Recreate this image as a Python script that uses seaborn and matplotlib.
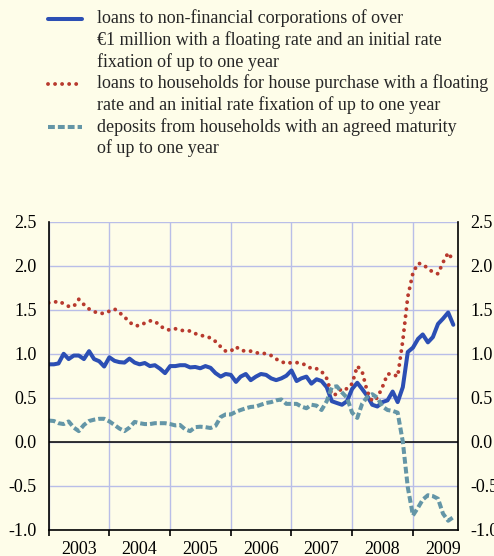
import numpy as np
import pandas as pd
import matplotlib
matplotlib.use('Agg')
import matplotlib.pyplot as plt
import matplotlib.dates as mdates
import seaborn as sns
from matplotlib.legend_handler import HandlerLine2D
from matplotlib.ticker import MultipleLocator, FormatStrFormatter, NullFormatter

# monthly values, Jan 2003 - Sep 2009 (percentage points)
corporations = [
    0.88, 0.88, 0.89, 1.00, 0.94, 0.98, 0.98, 0.94, 1.03, 0.94, 0.915, 0.855,
    0.96, 0.92, 0.905, 0.90, 0.945, 0.90, 0.88, 0.895, 0.86, 0.87, 0.83, 0.78,
    0.86, 0.86, 0.87, 0.87, 0.845, 0.85, 0.835, 0.86, 0.84, 0.78, 0.74, 0.77,
    0.76, 0.68, 0.74, 0.77, 0.70, 0.74, 0.77, 0.76, 0.72, 0.70, 0.72, 0.75,
    0.81, 0.69, 0.72, 0.74, 0.66, 0.71, 0.69, 0.62, 0.46, 0.44, 0.42, 0.46,
    0.60, 0.67, 0.60, 0.52, 0.42, 0.40, 0.45, 0.47, 0.57, 0.45, 0.62, 1.02,
    1.07, 1.17, 1.22, 1.13, 1.19, 1.34, 1.40, 1.47, 1.33,
]
households = [
    1.58, 1.585, 1.60, 1.57, 1.54, 1.54, 1.62, 1.56, 1.51, 1.48, 1.46, 1.46,
    1.485, 1.51, 1.47, 1.42, 1.36, 1.32, 1.32, 1.35, 1.375, 1.37, 1.32, 1.28,
    1.27, 1.285, 1.27, 1.26, 1.26, 1.23, 1.21, 1.20, 1.18, 1.14, 1.08, 1.03,
    1.03, 1.08, 1.04, 1.03, 1.03, 1.01, 1.01, 1.00, 0.98, 0.94, 0.91, 0.89,
    0.90, 0.90, 0.89, 0.87, 0.83, 0.83, 0.80, 0.72, 0.53, 0.54, 0.61, 0.60,
    0.66, 0.86, 0.80, 0.57, 0.46, 0.50, 0.62, 0.77, 0.77, 0.74, 1.15, 1.65,
    1.92, 2.03, 2.02, 1.97, 1.93, 1.91, 2.04, 2.15, 2.06,
]
deposits = [
    0.24, 0.235, 0.21, 0.20, 0.23, 0.16, 0.12, 0.19, 0.235, 0.25, 0.26, 0.26,
    0.23, 0.19, 0.15, 0.12, 0.16, 0.225, 0.21, 0.20, 0.20, 0.21, 0.21, 0.21,
    0.20, 0.185, 0.19, 0.14, 0.12, 0.165, 0.17, 0.165, 0.155, 0.18, 0.28, 0.31,
    0.31, 0.34, 0.36, 0.38, 0.395, 0.40, 0.42, 0.44, 0.45, 0.47, 0.48, 0.43,
    0.43, 0.43, 0.40, 0.38, 0.42, 0.41, 0.36, 0.46, 0.62, 0.63, 0.56, 0.50,
    0.33, 0.27, 0.43, 0.51, 0.54, 0.50, 0.40, 0.36, 0.35, 0.33, 0.00, -0.52,
    -0.84, -0.75, -0.66, -0.61, -0.62, -0.65, -0.82, -0.90, -0.86,
]
labels = [
    "loans to non-financial corporations of over\n"
    "€1 million with a floating rate and an initial rate\n"
    "fixation of up to one year",
    "loans to households for house purchase with a floating\n"
    "rate and an initial rate fixation of up to one year",
    "deposits from households with an agreed maturity\n"
    "of up to one year",
]

BG = '#fefde9'
BLUE = '#2c4fb4'
RED = '#b83a2e'
TEAL = '#6496a7'
GRID = '#b9bee8'
FS = 13
LINE_STEP = 1.19  # distance between text lines, in font sizes


class FirstLineHandler(HandlerLine2D):
    # legend keys are centred on multi-line labels; move them up to the first line
    def __init__(self, n_lines, **kw):
        super().__init__(**kw)
        self.n_lines = n_lines

    def create_artists(self, legend, orig_handle, xdescent, ydescent,
                       width, height, fontsize, trans):
        artists = super().create_artists(legend, orig_handle, xdescent, ydescent,
                                         width, height, fontsize, trans)
        shift = (self.n_lines - 1) / 2 * LINE_STEP * fontsize
        for a in artists:
            a.set_ydata(np.asarray(a.get_ydata()) + shift)
        return artists


df = pd.DataFrame({
    'month': pd.date_range('2003-01-01', periods=len(corporations), freq='MS'),
    'corporations': corporations,
    'households': households,
    'deposits': deposits,
})

sns.set_theme(style='white')
plt.rcParams['font.family'] = ['Liberation Serif', 'DejaVu Serif']
plt.rcParams['axes.unicode_minus'] = False

fig = plt.figure(figsize=(4.94, 5.56), dpi=100, facecolor=BG)
ax = fig.add_axes([48.7 / 494, 1 - 529.5 / 556, (458.3 - 48.7) / 494, (529.5 - 222) / 556])
ax.set_facecolor(BG)

sns.lineplot(data=df, x='month', y='corporations', ax=ax, color=BLUE, lw=2.9,
             label=labels[0], legend=False)
sns.lineplot(data=df, x='month', y='households', ax=ax, color=RED, lw=2.8,
             linestyle=(0, (0.01, 1.8)), dash_capstyle='round',
             label=labels[1], legend=False)
sns.lineplot(data=df, x='month', y='deposits', ax=ax, color=TEAL, lw=2.9,
             linestyle=(0, (1.7, 0.75)), label=labels[2], legend=False)
handles = ax.get_lines()[:3]

ax.axhline(0, color='black', lw=1.1, zorder=1.5)

ax.set_xlim(pd.Timestamp('2003-01-01'), pd.Timestamp('2009-10-01'))
ax.set_ylim(-1.0, 2.5)
ax.set_xlabel('')
ax.set_ylabel('')

ax.yaxis.set_major_locator(MultipleLocator(0.5))
ax.yaxis.set_major_formatter(FormatStrFormatter('%.1f'))
ax.xaxis.set_major_locator(mdates.YearLocator())
ax.xaxis.set_major_formatter(NullFormatter())
ax.xaxis.set_minor_locator(mdates.MonthLocator(bymonth=7))
ax.xaxis.set_minor_formatter(mdates.DateFormatter('%Y'))

ax.tick_params(axis='y', which='both', length=0, pad=8.5, labelsize=FS,
               labelleft=True, labelright=True, colors='black')
ax.tick_params(axis='x', which='major', direction='out', length=4.5, width=1.2,
               color='black', bottom=True)
ax.tick_params(axis='x', which='minor', length=0, pad=8, labelsize=FS,
               labelcolor='black')

ax.grid(True, which='major', color=GRID, lw=1.0)
for side in ['left', 'right', 'bottom']:
    ax.spines[side].set_color('black')
    ax.spines[side].set_linewidth(1.2)
ax.spines['top'].set_visible(False)

n_rows = [lab.count('\n') + 1 for lab in labels]
leg = fig.legend(handles, labels, loc='upper left',
                 bbox_to_anchor=(48 / 494, 1 - 9.5 / 556),
                 frameon=False, borderpad=0, borderaxespad=0,
                 handlelength=1.88, handletextpad=0.86, labelspacing=0.21,
                 fontsize=FS,
                 handler_map={h: FirstLineHandler(n) for h, n in zip(handles, n_rows)})
for t in leg.get_texts():
    t.set_linespacing(1.275)

fig.savefig('out.png', dpi=100, facecolor=BG)
